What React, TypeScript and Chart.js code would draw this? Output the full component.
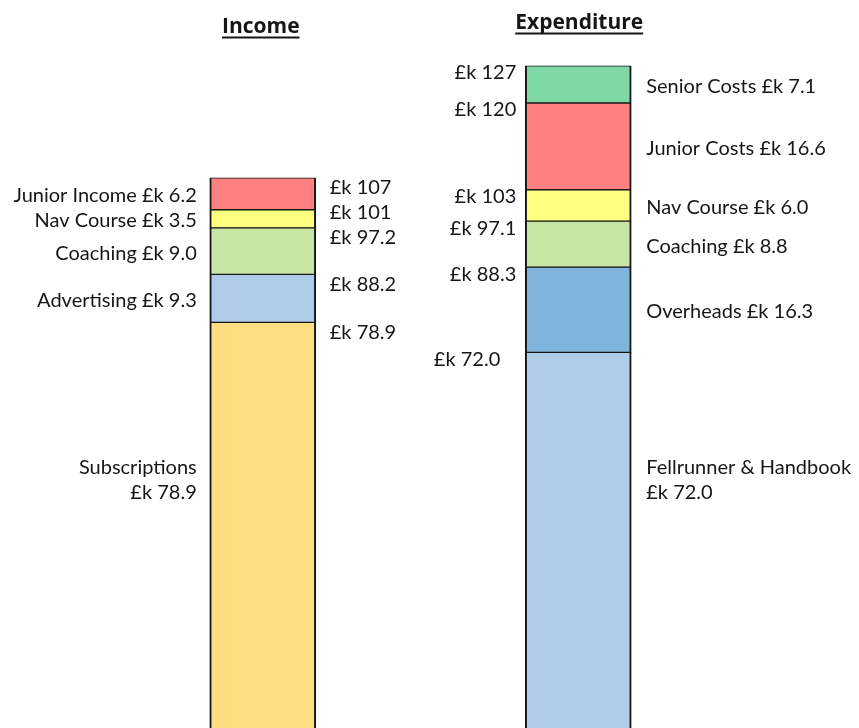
import React, { useEffect, useRef } from 'react';
import Chart from 'chart.js/auto';

// ---- data ----
const barCategories = ['Income', 'Expenditure'];

const incomeItems = ['Subscriptions', 'Advertising', 'Coaching', 'Nav Course', 'Junior Income'];
const incomeValues = [78.9, 9.3, 9.0, 3.5, 6.2];
const incomeColors = ['#FFDE82', '#AECCEA', '#C9E5A5', '#FFFF80', '#FF8080'];

const expenditureItems = ['Fellrunner & Handbook', 'Overheads', 'Coaching', 'Nav Course', 'Junior Costs', 'Senior Costs'];
const expenditureValues = [72.0, 16.3, 8.8, 6.0, 16.6, 7.1];
const expenditureColors = ['#AFCCE9', '#7FB5DC', '#C9E5A5', '#FFFF80', '#FF8080', '#80D8A8'];

const currency = '£k';

// ---- style ----
const FONT = 'Lato, "Open Sans", sans-serif';
const TITLE_FONT = '"Open Sans", Lato, sans-serif';
const FS = 20;
const TEXT = '#161616';
const LINE_GAP = 25;

const fmt = (v: number) => (v >= 100 ? Math.round(v).toString() : v.toFixed(1));

const labelPlugin = {
  id: 'stackLabels',
  afterDatasetsDraw(chart: any) {
    const ctx = chart.ctx;
    const ca = chart.chartArea;
    const nInc = incomeValues.length;
    const incEls = incomeValues.map((_, i) => chart.getDatasetMeta(i).data[0].getProps(['x', 'y', 'base', 'width'], true));
    const expEls = expenditureValues.map((_, i) =>
      chart.getDatasetMeta(nInc + i).data[1].getProps(['x', 'y', 'base', 'width'], true)
    );
    const bottomCenter = ca.top + ca.height * 0.66;

    ctx.save();
    ctx.fillStyle = TEXT;
    ctx.textBaseline = 'middle';
    ctx.font = `${FS}px ${FONT}`;

    // ---- Income ----
    const incLeft = incEls[0].x - incEls[0].width / 2;
    const incRight = incEls[0].x + incEls[0].width / 2;
    ctx.textAlign = 'right';
    incEls.forEach((el: any, i: number) => {
      if (i === 0) {
        ctx.fillText(incomeItems[i], incLeft - 13, bottomCenter - LINE_GAP / 2);
        ctx.fillText(`${currency} ${fmt(incomeValues[i])}`, incLeft - 13, bottomCenter + LINE_GAP / 2);
      } else {
        ctx.fillText(`${incomeItems[i]} ${currency} ${fmt(incomeValues[i])}`, incLeft - 13, (el.y + el.base) / 2 + 2);
      }
    });
    // cumulative totals (right side), placed bottom-up avoiding overlap
    ctx.textAlign = 'left';
    let cum = 0;
    let prevY = Infinity;
    incEls.forEach((el: any, i: number) => {
      cum += incomeValues[i];
      const y = Math.min(el.y + 10, prevY - LINE_GAP);
      ctx.fillText(`${currency} ${fmt(cum)}`, incRight + 14, y);
      prevY = y;
    });

    // ---- Expenditure ----
    const expLeft = expEls[0].x - expEls[0].width / 2;
    const expRight = expEls[0].x + expEls[0].width / 2;
    ctx.textAlign = 'left';
    expEls.forEach((el: any, i: number) => {
      if (i === 0) {
        ctx.fillText(expenditureItems[i], expRight + 15, bottomCenter - LINE_GAP / 2);
        ctx.fillText(`${currency} ${fmt(expenditureValues[i])}`, expRight + 15, bottomCenter + LINE_GAP / 2);
      } else {
        ctx.fillText(`${expenditureItems[i]} ${currency} ${fmt(expenditureValues[i])}`, expRight + 15, (el.y + el.base) / 2 + 2);
      }
    });
    ctx.textAlign = 'right';
    cum = 0;
    expEls.forEach((el: any, i: number) => {
      cum += expenditureValues[i];
      ctx.fillText(`${currency} ${fmt(cum)}`, expLeft - (i === 0 ? 25 : 9), el.y + 7);
    });

    // ---- Titles ----
    ctx.font = `bold 21px ${TITLE_FONT}`;
    ctx.textAlign = 'center';
    ctx.textBaseline = 'alphabetic';
    const titles = [
      { text: barCategories[0], x: incEls[0].x - 2, y: 33 },
      { text: barCategories[1], x: expEls[0].x + 1, y: 29 },
    ];
    titles.forEach((t) => {
      ctx.fillText(t.text, t.x, t.y);
      const w = ctx.measureText(t.text).width;
      ctx.fillRect(t.x - w / 2, t.y + 3.5, w, 2);
    });
    ctx.restore();
  },
};

export default function App() {
  const ref = useRef<HTMLCanvasElement | null>(null);

  useEffect(() => {
    const border = { top: 1, bottom: 1, left: 2, right: 2 };
    const datasets: any[] = [
      ...incomeItems.map((name, i) => ({
        label: name,
        data: [incomeValues[i], null],
        backgroundColor: incomeColors[i],
        yAxisID: 'yInc',
        stack: 's',
      })),
      ...expenditureItems.map((name, i) => ({
        label: name,
        data: [null, expenditureValues[i]],
        backgroundColor: expenditureColors[i],
        yAxisID: 'yExp',
        stack: 's',
      })),
    ].map((d) => ({
      ...d,
      borderColor: '#141414',
      borderWidth: border,
      borderSkipped: false,
      barThickness: 106,
    }));

    const chart = new Chart(ref.current as HTMLCanvasElement, {
      type: 'bar',
      data: { labels: barCategories, datasets },
      options: {
        animation: false,
        responsive: true,
        maintainAspectRatio: false,
        devicePixelRatio: 1,
        layout: { padding: { left: 105, right: 123, top: 0, bottom: 0 } },
        plugins: { legend: { display: false }, tooltip: { enabled: false } },
        scales: {
          x: { display: false, stacked: true },
          yInc: { display: false, stacked: true, position: 'left', min: 0.39, max: 141.3 },
          yExp: { display: false, stacked: true, position: 'right', min: 0.15, max: 139.4 },
        },
      },
      plugins: [labelPlugin],
    });
    return () => chart.destroy();
  }, []);

  return (
    <div style={{ position: 'fixed', left: 0, top: 0, width: 859, height: 728, background: '#ffffff' }}>
      <canvas ref={ref} />
    </div>
  );
}
